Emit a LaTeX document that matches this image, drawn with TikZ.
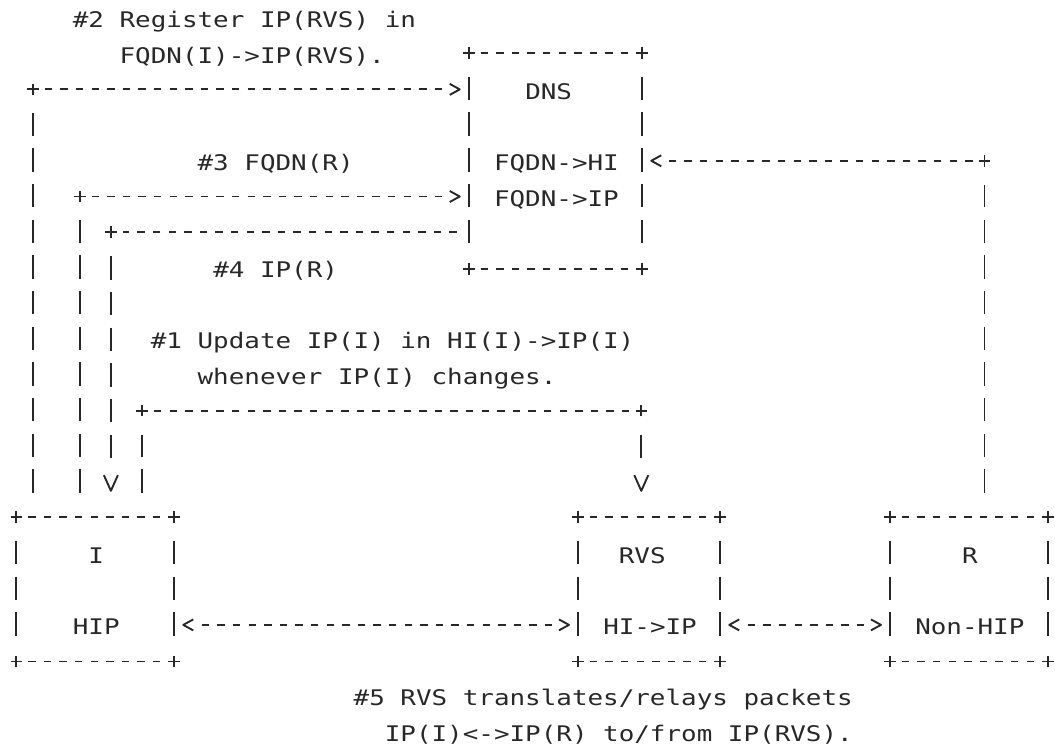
\documentclass[tikz,border=0pt]{standalone}
\usepackage{fontspec}
\newfontfamily\asciifont[FakeStretch=1.205]{DejaVu Sans Mono}
\definecolor{ink}{RGB}{40,40,40}

% tips drawn like the > and V characters (line stops short of the tip)
\pgfdeclarearrow{
  name = AsciiGt,
  setup code = {
    \pgfarrowssettipend{0pt}
    \pgfarrowssetbackend{-10pt}
    \pgfarrowssetvisualbackend{-10pt}
    \pgfarrowssetlineend{-14pt}
  },
  drawing code = {
    \pgfsetdash{}{0pt}
    \pgfsetlinewidth{1.9pt}
    \pgfsetroundjoin
    \pgfpathmoveto{\pgfqpoint{-10pt}{5.5pt}}
    \pgfpathlineto{\pgfpointorigin}
    \pgfpathlineto{\pgfqpoint{-10pt}{-5.5pt}}
    \pgfusepathqstroke
  }
}
\pgfdeclarearrow{
  name = AsciiV,
  setup code = {
    \pgfarrowssettipend{0pt}
    \pgfarrowssetbackend{-15.7pt}
    \pgfarrowssetvisualbackend{-15.7pt}
    \pgfarrowssetlineend{-22pt}
  },
  drawing code = {
    \pgfsetdash{}{0pt}
    \pgfsetlinewidth{1.9pt}
    \pgfsetroundjoin
    \pgfpathmoveto{\pgfqpoint{-15.7pt}{7pt}}
    \pgfpathlineto{\pgfpointorigin}
    \pgfpathlineto{\pgfqpoint{-15.7pt}{-7pt}}
    \pgfusepathqstroke
  }
}

% box outline in the character grid
\newcommand{\asciibox}[1]{%
  \draw[hseg] (#1.north west) -- (#1.north east);
  \draw[hseg] (#1.south west) -- (#1.south east);
  \draw[vseg] (#1.north west) -- (#1.south west);
  \draw[vseg] (#1.north east) -- (#1.south east);
  \foreach \cnr in {north west,north east,south west,south east}
    \pic at (#1.\cnr) {plus};
}

\begin{document}
\begin{tikzpicture}[x=15.6pt, y=-35.7pt, line width=1.9pt, color=ink]
  \def\cw{15.6pt}
  \def\rh{35.7pt}

  \tikzset{
    box/.style={inner sep=0pt, draw=none},
    txt/.style={font=\asciifont\fontsize{21.5pt}{25pt}\selectfont, anchor=base west,
      inner sep=0pt, xshift=-7.8pt, yshift=-9.7pt},
    hseg/.style={dash pattern=on 7.4pt off 8.2pt, shorten <=11.9pt, shorten >=11.9pt},
    vseg/.style={dash pattern=on 23.4pt off 12.3pt, shorten <=24pt, shorten >=24pt},
    plus/.pic={\draw[solid] (-5.8pt,0) -- (5.8pt,0) (0,-5.8pt) -- (0,5.8pt);}
  }

  % one unit = one character cell, rows counted downwards
  \path[use as bounding box] (-1.109,-0.504) rectangle (66.519,20.392);

  % boxes
  \node[box, minimum width=11*\cw, minimum height=6*\rh] (dns) at (34.5,4) {};
  \node[box, minimum width=10*\cw, minimum height=4*\rh] (ibox) at (5,16) {};
  \node[box, minimum width=9*\cw, minimum height=4*\rh] (rvs) at (40.5,16) {};
  \node[box, minimum width=10*\cw, minimum height=4*\rh] (rbox) at (61,16) {};
  \asciibox{dns}
  \asciibox{ibox}
  \asciibox{rvs}
  \asciibox{rbox}

  % box labels
  \node[txt] (dnsname) at (33,2) {DNS};
  \node[txt] (dnshi) at (31,4) {FQDN->HI};
  \node[txt] (dnsip) at (31,5) {FQDN->IP};
  \node[txt] (iname) at (5,15) {I};
  \node[txt] (ikind) at (4,17) {HIP};
  \node[txt] (rvsname) at (39,15) {RVS};
  \node[txt] (rvsmap) at (38,17) {HI->IP};
  \node[txt] (rname) at (61,15) {R};
  \node[txt] (rkind) at (58,17) {Non-HIP};

  % corners of the connectors
  \coordinate (reg) at (1,2);
  \coordinate (qry) at (4,5);
  \coordinate (ans) at (6,6);
  \coordinate (upd) at (8,11);
  \coordinate (updr) at (40,11);
  \coordinate (rq) at (62,4);
  \foreach \p in {reg,qry,ans,upd,updr,rq}
    \pic at (\p) {plus};

  % #2 register
  \draw[vseg] (ibox.north -| reg) -- (reg);
  \draw[hseg, -{AsciiGt}, shorten >=9pt] (reg) -- (reg -| dns.west);

  % #3 query and #4 answer
  \draw[vseg] (ibox.north -| qry) -- (qry);
  \draw[hseg, -{AsciiGt}, shorten >=9pt] (qry) -- (qry -| dns.west);
  \draw[hseg] (ans -| dns.west) -- (ans);
  \draw[vseg, -{AsciiV}, shorten >=26pt] (ans) -- (ans |- ibox.north);

  % #1 update
  \draw[vseg] (ibox.north -| upd) -- (upd);
  \draw[hseg] (upd) -- (updr);
  \draw[vseg, -{AsciiV}, shorten >=26pt] (updr) -- (updr |- rvs.north);

  % R to DNS
  \draw[vseg] (rbox.north -| rq) -- (rq);
  \draw[hseg, -{AsciiGt}, shorten >=9pt] (rq) -- (rq -| dns.east);

  % #5 relayed traffic
  \draw[hseg, {AsciiGt}-{AsciiGt}, shorten <=9pt, shorten >=9pt, dash phase=11.1pt]
    ([yshift=-\rh]ibox.east) -- ([yshift=-\rh]rvs.west);
  \draw[hseg, {AsciiGt}-{AsciiGt}, shorten <=9pt, shorten >=9pt, dash phase=11.1pt]
    ([yshift=-\rh]rvs.east) -- ([yshift=-\rh]rbox.west);

  % step notes
  \node[txt] (note2a) at (4,0) {\#2 Register IP(RVS) in};
  \node[txt] (note2b) at (7,1) {FQDN(I)->IP(RVS).};
  \node[txt] (note3) at (12,4) {\#3 FQDN(R)};
  \node[txt] (note4) at (13,7) {\#4 IP(R)};
  \node[txt] (note1a) at (9,9) {\#1 Update IP(I) in HI(I)->IP(I)};
  \node[txt] (note1b) at (12,10) {whenever IP(I) changes.};
  \node[txt] (note5a) at (22,19) {\#5 RVS translates/relays packets};
  \node[txt] (note5b) at (24,20) {IP(I)<->IP(R) to/from IP(RVS).};

\end{tikzpicture}
\end{document}
